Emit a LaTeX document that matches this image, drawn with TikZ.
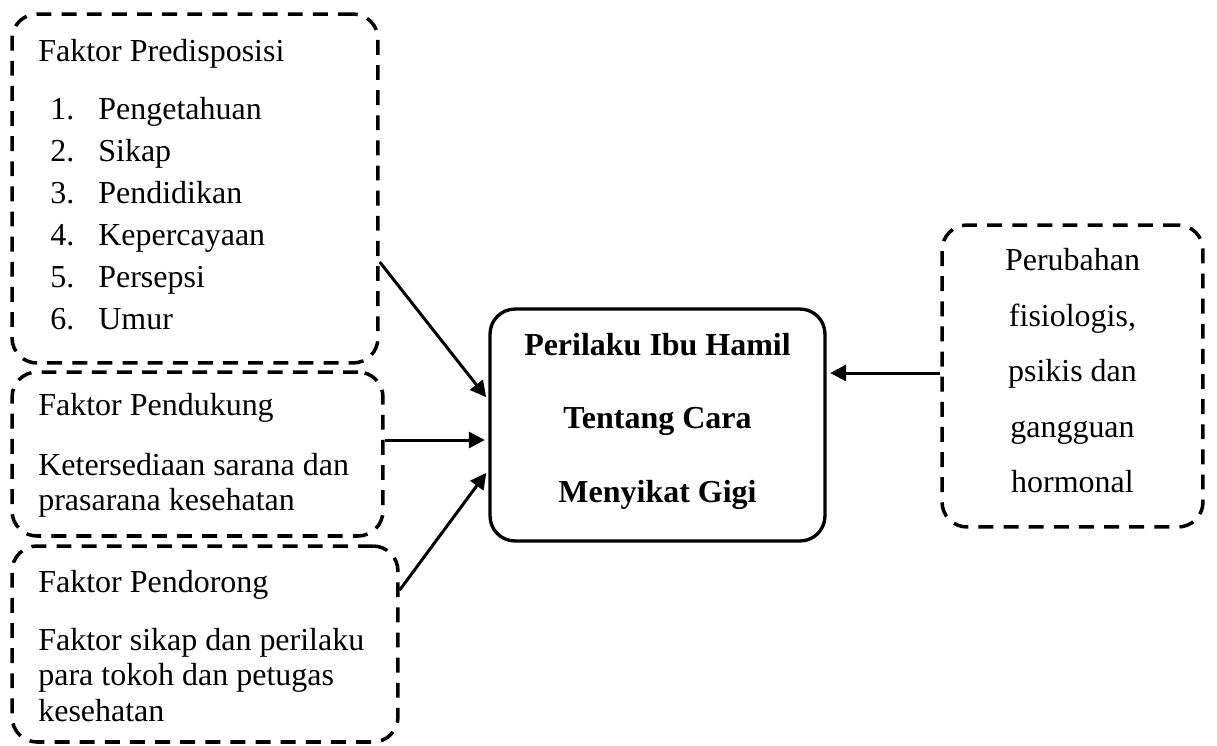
\documentclass[tikz,border=0pt]{standalone}
\usepackage{fontspec}
\setmainfont{Liberation Serif}
\usetikzlibrary{arrows.meta}

\begin{document}
\begin{tikzpicture}[x=0.02cm, y=-0.02cm,
	dbox/.style={draw, line width=2pt, dash pattern=on 8.5pt off 5.8pt, rounded corners=0.5cm, inner sep=0pt},
	sbox/.style={draw, line width=1.9pt, rounded corners=0.5cm, inner sep=0pt},
	txt/.style={font=\fontsize{18.2}{21}\selectfont, inner sep=0pt},
	arr/.style={line width=1.7pt, -{Triangle[length=0.32cm, width=0.32cm]}, shorten >=2pt}]
			%%%%% START %%%%%
			\useasboundingbox (0, 0) rectangle (1217, 745);

			% boxes
			\node[dbox, minimum width=7.32cm, minimum height=6.98cm] (pred) at (195, 188.5) {};
			\node[dbox, minimum width=7.42cm, minimum height=3.28cm] (supp) at (197.5, 454) {};
			\node[dbox, minimum width=7.72cm, minimum height=3.92cm] (enc) at (205, 644) {};
			\node[sbox, minimum width=6.7cm, minimum height=4.64cm] (goal) at (657.5, 425) {};
			\node[dbox, minimum width=5.22cm, minimum height=6.04cm] (phys) at (1072.5, 376) {};

			% Faktor Predisposisi
			\node[txt, anchor=base west] (predT) at (38, 61) {Faktor Predisposisi};
			\foreach \i/\t in {1/Pengetahuan, 2/Sikap, 3/Pendidikan, 4/Kepercayaan, 5/Persepsi, 6/Umur} {
				\node[txt, anchor=base west] (num\i) at (50, 77+42*\i) {\i.};
				\node[txt, anchor=base west] (item\i) at (98, 77+42*\i) {\t};
			}

			% Faktor Pendukung
			\node[txt, anchor=base west] (suppT) at (38, 415) {Faktor Pendukung};
			\node[txt, anchor=base west] (supp1) at (38, 475) {Ketersediaan sarana dan};
			\node[txt, anchor=base west] (supp2) at (38, 510) {prasarana kesehatan};

			% Faktor Pendorong
			\node[txt, anchor=base west] (encT) at (38, 592) {Faktor Pendorong};
			\node[txt, anchor=base west] (enc1) at (38, 650) {Faktor sikap dan perilaku};
			\node[txt, anchor=base west] (enc2) at (38, 685) {para tokoh dan petugas};
			\node[txt, anchor=base west] (enc3) at (38, 721) {kesehatan};

			% Perilaku
			\node[txt, anchor=base] (goal1) at (657.5, 355) {\textbf{Perilaku Ibu Hamil}};
			\node[txt, anchor=base] (goal2) at (657.5, 428) {\textbf{Tentang Cara}};
			\node[txt, anchor=base] (goal3) at (657.5, 502) {\textbf{Menyikat Gigi}};

			% Perubahan
			\foreach \t [count=\k] in {Perubahan, {fisiologis,}, psikis dan, gangguan, hormonal} {
				\node[txt, anchor=base] (phys\k) at (1072.5, 215+55.5*\k) {\t};
			}

			% arrows
			\draw[arr] ([yshift=-1.47cm]pred.east) -- ([yshift=0.5cm]goal.west);
			\draw[arr] ([yshift=0.28cm]supp.east) -- ([yshift=0.28cm]supp.east -| goal.west);
			\draw[arr] ([yshift=1.08cm]enc.east) -- ([yshift=-0.9cm]goal.west);
			\draw[arr] ([yshift=0.06cm]phys.west) -- ([yshift=0.06cm]phys.west -| goal.east);
			%%%%% END %%%%%
\end{tikzpicture}
\end{document}
